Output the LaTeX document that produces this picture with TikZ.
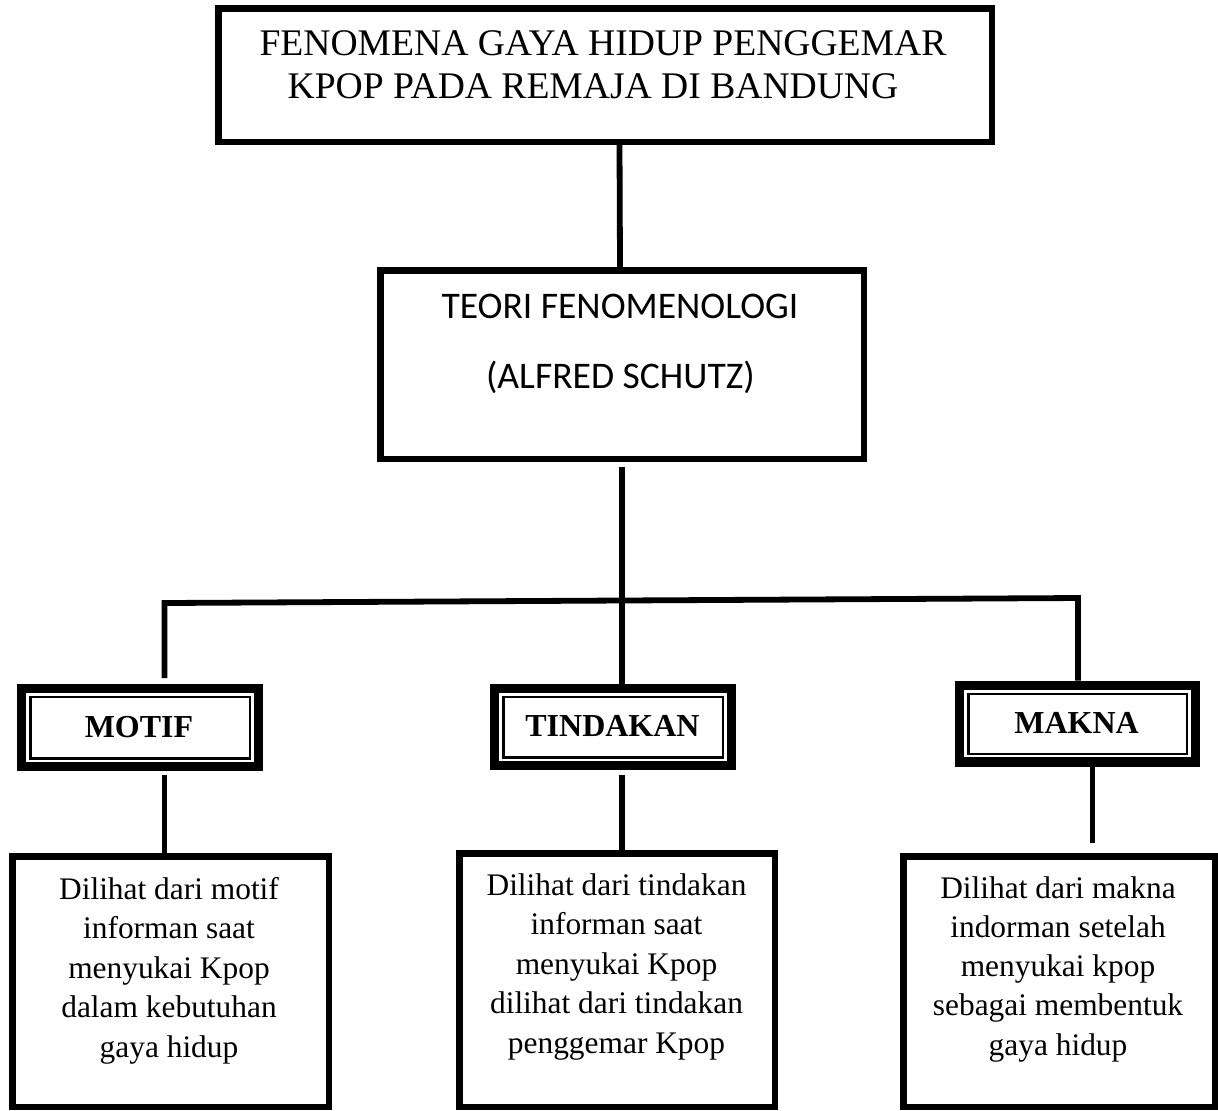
\documentclass[tikz,border=0pt]{standalone}
\usepackage{fontspec}
\setmainfont{Liberation Serif}
\newfontfamily\calib{Carlito}
\usetikzlibrary{calc}
\begin{document}
\begin{tikzpicture}[x=0.5pt,y=-0.5pt,
  box/.style={draw, line width=3.25pt, rectangle, inner sep=0pt},
  dbox/.style={draw, line width=4.65pt, rectangle, inner sep=0pt, minimum width=118.35pt},
  innerline/.style={line width=1.1pt},
  link/.style={line width=2.9pt},
  toptxt/.style={inner sep=0pt, anchor=base, font=\fontsize{18.8}{22}\selectfont},
  thtxt/.style={inner sep=0pt, anchor=base, font=\calib\fontsize{18.8}{22}\selectfont},
  lbl/.style={inner sep=0pt, anchor=base, font=\bfseries\fontsize{16}{19}\selectfont},
  txt/.style={inner sep=0pt, anchor=base, font=\fontsize{15.7}{19}\selectfont}]
\useasboundingbox (0,0) rectangle (1218,1110);

% boxes
\node[box, minimum width=386.75pt, minimum height=66.75pt] (top) at (605,75) {};
\node[box, minimum width=241.75pt, minimum height=94.25pt] (theory) at (622,364.5) {};
\node[dbox, minimum height=38.85pt] (motif) at (140,727.5) {};
\node[dbox, minimum height=38.35pt] (tindakan) at (613,727) {};
\node[dbox, minimum width=117.85pt, minimum height=38.35pt] (makna) at (1077.5,723.5) {};
\node[box, minimum width=158.25pt, minimum height=125.25pt] (bl) at (170.5,981.5) {};
\node[box, minimum width=157.75pt, minimum height=126.75pt] (bm) at (617,980) {};
\node[box, minimum width=155.75pt, minimum height=125.25pt] (br) at (1059,981.5) {};

% inner thin lines of the double boxes
\foreach \n in {motif,tindakan,makna}
  \draw[innerline] ([xshift=6.7pt,yshift=-6.6pt]\n.north west) rectangle ([xshift=-6.7pt,yshift=6.3pt]\n.south east);

% texts
\node[toptxt] (t1) at (603,55) {FENOMENA GAYA HIDUP PENGGEMAR};
\node[toptxt] (t2) at (593,98) {KPOP PADA REMAJA DI BANDUNG};
\node[thtxt] (th1) at (620,318) {TEORI FENOMENOLOGI};
\node[thtxt] (th2) at (620.5,388) {(ALFRED SCHUTZ)};
\node[lbl] (motifT) at (139,737) {MOTIF};
\node[lbl] (tindakanT) at (612.5,736) {TINDAKAN};
\node[lbl] (maknaT) at (1076.5,733) {MAKNA};

\foreach \s [count=\i] in {Dilihat dari motif,informan saat,menyukai Kpop,dalam kebutuhan,gaya hidup}
  \node[txt] (blt\i) at (169,{899+39.5*(\i-1)}) {\s};
\foreach \s [count=\i] in {Dilihat dari tindakan,informan saat,menyukai Kpop,dilihat dari tindakan,penggemar Kpop}
  \node[txt] (bmt\i) at (616.5,{895+39.5*(\i-1)}) {\s};
\foreach \s [count=\i] in {Dilihat dari makna,indorman setelah,menyukai kpop,sebagai membentuk,gaya hidup}
  \node[txt] (brt\i) at (1058,{898+39.3*(\i-1)}) {\s};

% connectors
\coordinate (busL) at (164.5,603);
\coordinate (busR) at (1078,598);
\coordinate (mkx) at (1092.5,767);
\draw[link] ($(top.south)+(14.5,0)$) -- ($(theory.north)+(-2,0)$);
\draw[link] ($(theory.south)+(0,5)$) -- (tindakan.north -| theory.south);
\draw[link] ($(motif.north -| busL)+(0,-6)$) -- (busL) -- (busR) -- (makna.north -| busR);
\draw[link] ($(motif.south -| busL)+(0,4)$) -- (bl.north -| busL);
\draw[link] ($(tindakan.south -| theory.south)+(0,5)$) -- (bm.north -| theory.south);
\draw[link] (makna.south -| mkx) -- ($(br.north -| mkx)+(0,-10)$);
\end{tikzpicture}
\end{document}
